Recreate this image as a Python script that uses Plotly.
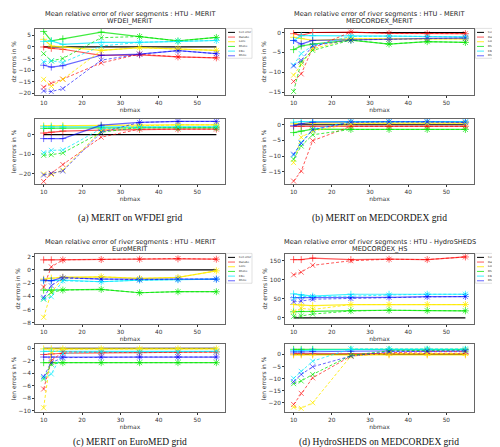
import plotly.graph_objects as go

W, H = 500, 447

nbmax = [10, 12, 15, 25, 35, 45, 55]
rivers = ["Danube", "Loire", "Rhone", "Elbe", "Rhine"]
cell_error = [0, 0, 0, 0, 0, 0, 0]

# (a) MERIT on WFDEI grid
a_dz_solid = {
    "Danube": [0.0, -0.6, -1.0, -3.6, -3.4, -4.3, -4.7],
    "Loire": [3.3, 0.4, 0.0, -1.5, -0.3, -0.8, -1.5],
    "Rhone": [6.7, 2.6, 3.5, 6.4, 4.5, 2.6, 4.1],
    "Elbe": [2.4, 2.6, 1.1, 2.0, 2.0, 2.4, 2.8],
    "Rhine": [-7.9, -8.7, -8.1, -3.6, -3.1, -1.6, -2.9],
}
a_dz_dashed = {
    "Danube": [-17.4, -15.7, -13.9, -6.9, -3.1, -4.3, -4.7],
    "Loire": [-14.0, -17.0, -14.0, -1.5, -0.3, -0.8, -1.5],
    "Rhone": [-2.9, -6.0, -5.0, 4.0, 4.5, 2.6, 4.1],
    "Elbe": [-6.4, -6.0, -6.7, 0.4, 2.0, 2.4, 2.8],
    "Rhine": [-19.0, -19.3, -18.0, -5.7, -3.1, -1.6, -2.9],
}
a_len_solid = {
    "Danube": [0.8, 1.3, 1.8, 2.3, 2.6, 2.8, 2.8],
    "Loire": [4.5, 4.5, 4.6, 4.7, 4.8, 5.0, 5.0],
    "Rhone": [3.2, 3.3, 3.3, 3.4, 3.5, 3.5, 3.5],
    "Elbe": [4.0, 4.0, 4.0, 4.0, 4.0, 4.0, 4.0],
    "Rhine": [-2.0, -2.0, -2.0, 4.8, 6.2, 6.7, 6.7],
}
a_len_dashed = {
    "Danube": [-23.8, -19.7, -15.2, -1.3, 2.8, 2.8, 2.8],
    "Loire": [-20.0, -20.2, -18.0, 2.0, 4.5, 5.0, 5.0],
    "Rhone": [-10.5, -10.2, -9.3, 1.2, 3.7, 3.5, 3.5],
    "Elbe": [-9.2, -8.0, -7.8, 3.0, 3.7, 4.0, 4.0],
    "Rhine": [-20.5, -19.7, -18.5, 1.2, 6.2, 6.7, 6.7],
}

# (b) MERIT on MEDCORDEX grid
b_dz_solid = {
    "Danube": [-0.3, -0.7, 0.0, 0.1, -0.2, -0.3, -0.3],
    "Loire": [-1.2, -1.5, -2.0, -1.6, -1.6, -1.6, -1.6],
    "Rhone": [-4.3, -3.4, -2.9, -1.9, -2.9, -2.3, -2.5],
    "Elbe": [-2.0, -0.8, -0.8, -0.8, -0.9, -1.0, -1.1],
    "Rhine": [-2.0, -2.9, -2.0, -1.9, -1.7, -1.5, -1.4],
}
b_dz_dashed = {
    "Danube": [-12.3, -10.4, -3.9, 0.1, -0.2, -0.3, -0.3],
    "Loire": [-10.7, -8.0, -4.1, -1.6, -1.6, -1.6, -1.6],
    "Rhone": [-14.8, -7.4, -4.5, -1.9, -2.9, -2.3, -2.5],
    "Elbe": [-8.2, -5.3, -3.3, -1.0, -0.9, -1.0, -1.1],
    "Rhine": [-8.4, -7.0, -3.3, -1.9, -1.7, -1.5, -1.4],
}
b_len_solid = {
    "Danube": [-0.5, -0.5, -0.5, -0.5, -0.5, -0.5, -0.5],
    "Loire": [0.3, 0.4, 0.5, 0.5, 0.5, 0.5, 0.5],
    "Rhone": [-2.5, -2.0, -1.4, -1.5, -1.5, -1.5, -1.5],
    "Elbe": [0.8, 1.0, 1.0, 1.0, 1.0, 1.0, 1.0],
    "Rhine": [-0.3, 0.3, 0.8, 1.0, 1.0, 1.0, 0.8],
}
b_len_dashed = {
    "Danube": [-18.0, -14.8, -5.1, -0.5, -0.5, -0.5, -0.5],
    "Loire": [-12.1, -4.0, -2.0, 0.3, 0.5, 0.5, 0.5],
    "Rhone": [-11.0, -6.8, -3.2, -1.5, -1.5, -1.5, -1.5],
    "Elbe": [-9.7, -5.7, -1.4, 1.0, 1.0, 1.0, 1.0],
    "Rhine": [-9.4, -5.9, -1.6, 0.8, 0.9, 0.9, 0.8],
}

# (c) MERIT on EuroMED grid
c_dz_solid = {
    "Danube": [1.5, 1.5, 1.5, 1.55, 1.6, 1.65, 1.6],
    "Loire": [-1.4, -1.25, -1.1, -1.05, -1.3, -1.15, -0.15],
    "Rhone": [-3.05, -3.05, -3.05, -2.95, -3.45, -3.3, -3.3],
    "Elbe": [-1.65, -1.6, -1.55, -1.8, -1.55, -1.5, -1.4],
    "Rhine": [-1.55, -1.65, -1.15, -1.4, -1.4, -1.4, -1.4],
}
c_dz_dashed = {
    "Danube": [-2.6, 0.45, 1.5, 1.55, 1.6, 1.7, 1.6],
    "Loire": [-7.15, -3.4, -1.25, -1.05, -1.3, -1.15, -0.15],
    "Rhone": [-4.4, -3.4, -3.05, -2.95, -3.45, -3.3, -3.3],
    "Elbe": [-4.4, -4.05, -1.65, -1.8, -1.55, -1.5, -1.4],
    "Rhine": [-4.15, -2.4, -1.25, -1.4, -1.5, -1.4, -1.4],
}
c_len_solid = {
    "Danube": [-1.0, -0.9, -0.8, -0.75, -0.7, -0.65, -0.6],
    "Loire": [-0.1, -0.1, -0.1, -0.1, -0.1, -0.1, -0.1],
    "Rhone": [-2.3, -2.3, -2.3, -2.3, -2.3, -2.3, -2.3],
    "Elbe": [-0.5, -0.5, -0.5, -0.5, -0.5, -0.5, -0.5],
    "Rhine": [-1.4, -1.4, -1.4, -1.4, -1.4, -1.4, -1.4],
}
c_len_dashed = {
    "Danube": [-6.5, -2.0, -0.6, -0.7, -0.7, -0.65, -0.6],
    "Loire": [-9.5, -0.7, -0.15, -0.1, -0.1, -0.1, -0.1],
    "Rhone": [-4.9, -2.55, -2.3, -2.3, -2.3, -2.3, -2.3],
    "Elbe": [-4.7, -4.1, -0.8, -0.6, -0.6, -0.6, -0.5],
    "Rhine": [-4.5, -2.3, -1.5, -1.4, -1.4, -1.4, -1.4],
}

# (d) HydroSHEDS on MEDCORDEX grid
d_dz_solid = {
    "Danube": [153, 153, 157, 153, 154, 153, 160],
    "Loire": [35, 34, 32, 35, 35, 35, 35],
    "Rhone": [16, 17, 17, 19, 20, 19, 18.5],
    "Elbe": [63, 60, 57, 62, 62, 62, 62],
    "Rhine": [53, 53, 53, 53, 54, 56, 56],
}
d_dz_dashed = {
    "Danube": [113, 120, 138, 150, 154, 153, 160],
    "Loire": [16, 25, 22, 35, 35, 35, 35],
    "Rhone": [4, 5, 10, 18, 20, 19, 18.5],
    "Elbe": [51, 56, 56, 57, 60, 62, 62],
    "Rhine": [42, 44, 49, 51, 54, 55, 56],
}
d_len_solid = {
    "Danube": [0.2, 0.2, 0.2, 0.2, 0.2, 0.2, 0.2],
    "Loire": [-0.2, -0.2, -0.2, -0.2, -0.2, -0.2, -0.2],
    "Rhone": [2.1, 2.1, 2.1, 2.1, 2.1, 2.1, 2.1],
    "Elbe": [1.5, 1.6, 1.8, 2.0, 2.0, 2.0, 2.0],
    "Rhine": [1.0, 1.0, 1.2, 1.3, 1.4, 1.4, 1.4],
}
d_len_dashed = {
    "Danube": [-20.7, -16.1, -9.7, -0.7, 0.7, 1.1, 1.1],
    "Loire": [-21.8, -22.3, -20.0, -0.7, 0.4, 0.4, 0.4],
    "Rhone": [-12.1, -11.0, -8.3, -0.4, 1.5, 1.8, 1.8],
    "Elbe": [-9.9, -7.0, -2.8, 2.3, 2.3, 2.3, 2.3],
    "Rhine": [-11.3, -8.3, -5.1, -0.7, 1.1, 1.4, 1.4],
}

colors = {
    "Danube": "rgba(255,0,0,0.65)",
    "Loire": "rgba(255,235,0,0.85)",
    "Rhone": "rgba(0,230,0,0.75)",
    "Elbe": "rgba(0,235,255,0.75)",
    "Rhine": "rgba(0,0,255,0.6)",
}

titles_top = [
    ("Mean relative error of river segments : HTU - MERIT", "WFDEI_MERIT"),
    ("Mean relative error of river segments : HTU - MERIT", "MEDCORDEX_MERIT"),
    ("Mean relative error of river segments : HTU - MERIT", "EuroMERIT"),
    ("Mean relative error of river segments : HTU - HydroSHEDS", "MEDCORDEX_HS"),
]
captions = [
    "(a) MERIT on WFDEI grid",
    "(b) MERIT on MEDCORDEX grid",
    "(c) MERIT on EuroMED grid",
    "(d) HydroSHEDS on MEDCORDEX grid",
]

# panel geometry in pixels: (x0, x1, y0_top, y1_top, y0_bot, y1_bot, title_y)
geo = [
    (27, 217, 21, 87, 111, 177, 6),
    (277, 466, 21, 87, 111, 177, 6),
    (27, 217, 247, 317, 338, 406, 235),
    (277, 466, 247, 317, 338, 406, 235),
]
yranges = [
    ([-20.6, 7.8], 5, [-25.2, 8.2], 10),
    ([-15.6, 0.9], 5, [-19.0, 2.0], 5),
    ([-8.1, 2.4], 2, [-10.2, 0.6], 2),
    ([-15, 168], 50, [-23.9, 4.1], 5),
]
panels = [
    (a_dz_solid, a_dz_dashed, a_len_solid, a_len_dashed),
    (b_dz_solid, b_dz_dashed, b_len_solid, b_len_dashed),
    (c_dz_solid, c_dz_dashed, c_len_solid, c_len_dashed),
    (d_dz_solid, d_dz_dashed, d_len_solid, d_len_dashed),
]


def px(x):
    return x / W


def py(y):
    return 1 - y / H


fig = go.Figure()
layout = dict(
    width=W, height=H, autosize=False,
    margin=dict(l=0, r=0, t=0, b=0),
    paper_bgcolor="white", plot_bgcolor="white",
    showlegend=False,
    font=dict(family="DejaVu Sans", color="#333"),
)
annotations = []
shapes = []

TICKF = dict(size=5.8, family="DejaVu Sans", color="#333")
TITF = dict(size=6, family="DejaVu Sans", color="#333")


def add_traces(ax_idx, solid, dashed):
    xa = "x" if ax_idx == 1 else f"x{ax_idx}"
    ya = "y" if ax_idx == 1 else f"y{ax_idx}"
    fig.add_trace(go.Scatter(x=nbmax, y=cell_error, mode="lines",
                             line=dict(color="black", width=1.2),
                             xaxis=xa, yaxis=ya, hoverinfo="skip"))
    for r in rivers:
        fig.add_trace(go.Scatter(
            x=nbmax, y=solid[r], mode="lines+markers",
            line=dict(color=colors[r], width=1.2),
            marker=dict(symbol="cross-thin-open", size=5,
                        line=dict(color=colors[r], width=0.9)),
            xaxis=xa, yaxis=ya, hoverinfo="skip"))
    for r in rivers:
        fig.add_trace(go.Scatter(
            x=nbmax, y=dashed[r], mode="lines+markers",
            line=dict(color=colors[r], width=1.0, dash="3px,2px"),
            marker=dict(symbol="x-thin-open", size=5,
                        line=dict(color=colors[r], width=0.9)),
            xaxis=xa, yaxis=ya, hoverinfo="skip"))


def axis_common():
    return dict(showline=True, mirror=True, linecolor="#666", linewidth=1,
                showgrid=False, zeroline=False, ticks="outside", ticklen=2,
                tickwidth=0.6, tickcolor="#333", tickfont=TICKF)


for p in range(4):
    x0, x1, yt0, yt1, yb0, yb1, ty = geo[p]
    dz_s, dz_d, len_s, len_d = panels[p]
    rt, dt, rb, db = yranges[p]
    top_i = 2 * p + 1
    bot_i = 2 * p + 2
    add_traces(top_i, dz_s, dz_d)
    add_traces(bot_i, len_s, len_d)
    for idx, (y0, y1, rng, dtk, lab) in [
        (top_i, (yt0, yt1, rt, dt, "dz errors in %")),
        (bot_i, (yb0, yb1, rb, db, "len errors in %")),
    ]:
        xk = "xaxis" if idx == 1 else f"xaxis{idx}"
        yk = "yaxis" if idx == 1 else f"yaxis{idx}"
        ya = "y" if idx == 1 else f"y{idx}"
        xa = "x" if idx == 1 else f"x{idx}"
        layout[xk] = dict(axis_common(), domain=[px(x0), px(x1)],
                          range=[7.75, 57.25], dtick=10, tick0=10, anchor=ya,
                          title=dict(text="nbmax", font=TITF, standoff=1))
        layout[yk] = dict(axis_common(), domain=[py(y1), py(y0)],
                          range=rng, dtick=dtk, tick0=0, anchor=xa,
                          title=dict(text=lab, font=TITF, standoff=1))
    cx = (x0 + x1) / 2
    t1, t2 = titles_top[p]
    tf = dict(size=6.6, family="DejaVu Sans", color="#222")
    annotations.append(dict(text=t1, x=px(cx), y=py(ty), xref="paper", yref="paper",
                            showarrow=False, font=tf, xanchor="center", yanchor="middle"))
    annotations.append(dict(text=t2, x=px(cx), y=py(ty + 7.3), xref="paper", yref="paper",
                            showarrow=False, font=tf, xanchor="center", yanchor="middle"))
    cap_y = 211 if p < 2 else 436
    annotations.append(dict(text=captions[p], x=px(cx - 0.5), y=py(cap_y), xref="paper", yref="paper",
                            showarrow=False, font=dict(size=9.5, family="Liberation Serif", color="#111"),
                            xanchor="center", yanchor="middle"))
    # legend box (manual)
    lx0 = x1 + 1.5
    ly0 = yt0 - 0.5
    shapes.append(dict(type="rect", xref="paper", yref="paper",
                       x0=px(lx0), x1=px(lx0 + 25.5), y0=py(ly0 + 30), y1=py(ly0),
                       line=dict(color="#ccc", width=0.6), fillcolor="white"))
    entries = [("Cell error", "black", "dash")] + [(r, colors[r], "solid") for r in rivers]
    for k, (name, col, dsh) in enumerate(entries):
        yy = ly0 + 4 + k * 4.7
        shapes.append(dict(type="line", xref="paper", yref="paper",
                           x0=px(lx0 + 1.5), x1=px(lx0 + 8.5), y0=py(yy), y1=py(yy),
                           line=dict(color=col, width=1.0, dash=dsh)))
        annotations.append(dict(text=name, x=px(lx0 + 10.5), y=py(yy), xref="paper", yref="paper",
                                showarrow=False, font=dict(size=2.6, family="DejaVu Sans", color="#222"),
                                xanchor="left", yanchor="middle"))

layout["annotations"] = annotations
layout["shapes"] = shapes
fig.update_layout(**layout)
fig.write_html("out.html")
